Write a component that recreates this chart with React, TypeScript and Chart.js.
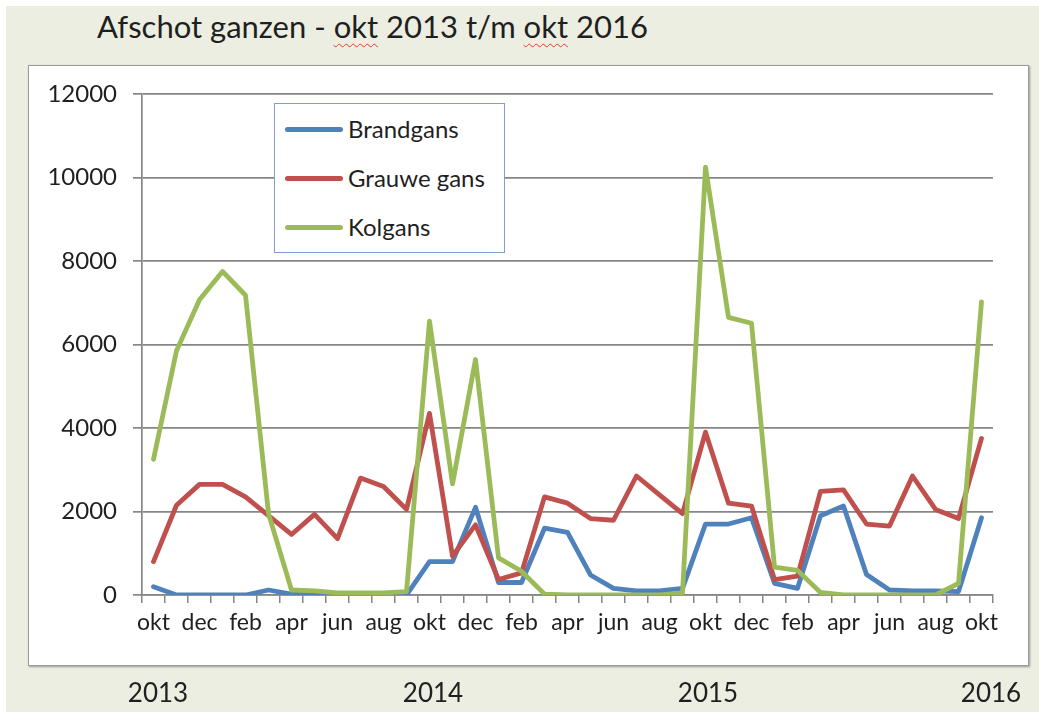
import React, { useEffect, useRef } from 'react';
import { Chart, registerables } from 'chart.js';

Chart.register(...registerables);

// ---- data ----
const months = [
  'okt', 'nov', 'dec', 'jan', 'feb', 'mrt', 'apr', 'mei', 'jun', 'jul', 'aug', 'sep',
  'okt', 'nov', 'dec', 'jan', 'feb', 'mrt', 'apr', 'mei', 'jun', 'jul', 'aug', 'sep',
  'okt', 'nov', 'dec', 'jan', 'feb', 'mrt', 'apr', 'mei', 'jun', 'jul', 'aug', 'sep',
  'okt',
];

const brandgans = [
  200, 0, 0, 0, 0, 120, 20, 0, 0, 0, 0, 0,
  800, 800, 2100, 300, 300, 1600, 1500, 480, 160, 100, 100, 160,
  1700, 1700, 1850, 280, 160, 1900, 2130, 490, 120, 100, 100, 80,
  1850,
];

const grauweGans = [
  800, 2150, 2650, 2650, 2350, 1900, 1450, 1930, 1350, 2800, 2600, 2050,
  4350, 930, 1680, 370, 530, 2350, 2200, 1830, 1790, 2850, 2400, 1950,
  3900, 2200, 2130, 370, 450, 2480, 2520, 1700, 1650, 2850, 2050, 1830,
  3750,
];

const kolgans = [
  3250, 5850, 7070, 7750, 7180, 1950, 120, 100, 50, 50, 50, 80,
  6560, 2660, 5640, 890, 570, 20, 0, 0, 0, 0, 0, 50,
  10250, 6650, 6510, 670, 590, 60, 0, 0, 0, 0, 0, 280,
  7020,
];

const seriesNames = ['Brandgans', 'Grauwe gans', 'Kolgans'];
const yearLabels = ['2013', '2014', '2015', '2016'];
const yTicksMax = 12000;
const yTickStep = 2000;

// ---- styles ----
const BLUE = '#4F81BD';
const RED = '#C0504D';
const GREEN = '#9BBB59';
const GRID = '#868686';
const TEXT = '#1f1f1f';
const FONT = 'Lato, "DejaVu Sans", sans-serif';

const yearCenters = [158, 433, 708, 991];

export default function App() {
  const ref = useRef<HTMLCanvasElement>(null);

  useEffect(() => {
    const common = {
      borderWidth: 4.8,
      pointRadius: 0,
      pointHoverRadius: 0,
      tension: 0,
      fill: false,
      borderJoinStyle: 'round' as const,
      borderCapStyle: 'round' as const,
    };
    const chart = new Chart(ref.current as HTMLCanvasElement, {
      type: 'line',
      data: {
        labels: months,
        datasets: [
          { label: seriesNames[0], data: brandgans, borderColor: BLUE, backgroundColor: BLUE, order: 2, ...common },
          { label: seriesNames[1], data: grauweGans, borderColor: RED, backgroundColor: RED, order: 1, ...common },
          { label: seriesNames[2], data: kolgans, borderColor: GREEN, backgroundColor: GREEN, order: 0, ...common },
        ],
      },
      options: {
        animation: false,
        responsive: false,
        maintainAspectRatio: false,
        layout: { padding: { top: 94, right: 46, bottom: 78, left: 0 } },
        plugins: {
          legend: { display: false },
          tooltip: { enabled: false },
          title: { display: false },
        },
        scales: {
          x: {
            type: 'category',
            offset: true,
            grid: {
              display: true,
              drawOnChartArea: false,
              drawTicks: true,
              tickLength: 8,
              offset: true,
              color: GRID,
              lineWidth: 1.5,
            },
            border: { display: true, color: GRID, width: 1.5 },
            ticks: {
              autoSkip: false,
              maxRotation: 0,
              minRotation: 0,
              padding: 6,
              color: TEXT,
              font: { family: FONT, size: 23 },
              callback: (_v: any, i: number) => (i % 2 === 0 ? months[i] : ''),
            },
            afterFit: (s: any) => {
              s.height = 40;
            },
          },
          y: {
            min: 0,
            max: yTicksMax,
            ticks: {
              stepSize: yTickStep,
              padding: 16,
              color: TEXT,
              font: { family: FONT, size: 24 },
              callback: (v: any) => String(v),
            },
            grid: { color: GRID, lineWidth: 1.7, tickLength: 9, drawTicks: true },
            border: { display: true, color: GRID, width: 1.7 },
            afterFit: (s: any) => {
              s.width = 142;
            },
          },
        },
      },
    } as any);
    return () => chart.destroy();
  }, []);

  const squiggle: React.CSSProperties = {
    textDecorationLine: 'underline',
    textDecorationStyle: 'wavy',
    textDecorationColor: '#e23b3b',
    textDecorationThickness: '1px',
    textUnderlineOffset: '5px',
  };

  const legendColors = [BLUE, RED, GREEN];
  const legendRowCenters = [25, 74, 123];

  return (
    <div style={{ position: 'absolute', left: 0, top: 0, width: 1039, height: 713, background: '#ffffff', overflow: 'hidden', fontFamily: FONT }}>
      <div style={{ position: 'absolute', left: 6, top: 6, width: 1033, height: 706, background: '#ebeee0' }} />
      <div
        style={{
          position: 'absolute', left: 97, top: 11, fontSize: 31, lineHeight: 1, color: TEXT, whiteSpace: 'nowrap',
        }}
      >
        Afschot ganzen - <span style={squiggle}>okt</span> 2013 t/m <span style={squiggle}>okt</span> 2016
      </div>
      <div
        style={{
          position: 'absolute', left: 28, top: 65, width: 1001, height: 601, boxSizing: 'border-box',
          background: '#ffffff', border: '1px solid #9a9a9a', boxShadow: '1px 1px 2px rgba(0,0,0,0.35)',
        }}
      />
      <canvas
        ref={ref}
        width={1039}
        height={713}
        style={{ position: 'absolute', left: 0, top: 0, width: 1039, height: 713 }}
      />
      <div
        style={{
          position: 'absolute', left: 274, top: 103, width: 231, height: 150, boxSizing: 'border-box',
          background: '#ffffff', border: '1.5px solid #7f9fd2',
        }}
      >
        {seriesNames.map((name, i) => (
          <div key={name} style={{ position: 'absolute', left: 0, top: legendRowCenters[i] - 13, height: 26, width: 228 }}>
            <div style={{ position: 'absolute', left: 10, top: 11, width: 58, height: 4.8, borderRadius: 2.5, background: legendColors[i] }} />
            <div style={{ position: 'absolute', left: 73, top: 0, fontSize: 24, lineHeight: '26px', color: TEXT, whiteSpace: 'nowrap' }}>{name}</div>
          </div>
        ))}
      </div>
      {yearLabels.map((y, i) => (
        <div
          key={y}
          style={{
            position: 'absolute', left: yearCenters[i] - 50, width: 100, top: 679, textAlign: 'center',
            fontSize: 26, lineHeight: 1, color: TEXT,
          }}
        >
          {y}
        </div>
      ))}
    </div>
  );
}
